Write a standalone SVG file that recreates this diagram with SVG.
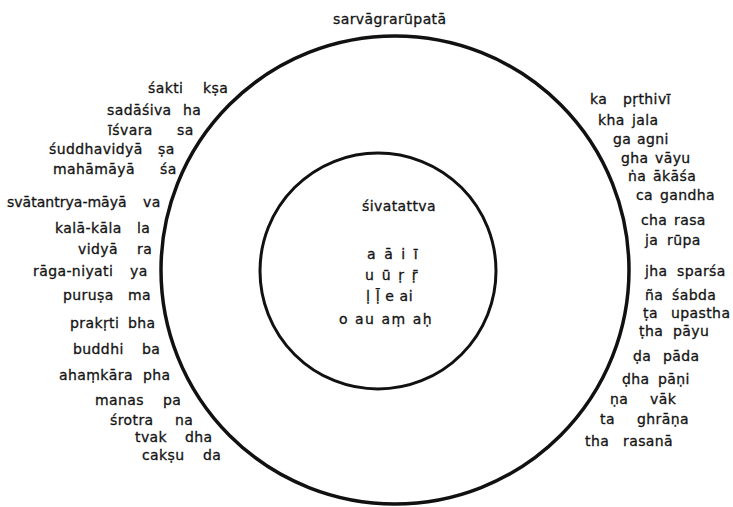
<svg xmlns="http://www.w3.org/2000/svg" width="733" height="507" viewBox="0 0 733 507">
<style>
text{font-family:"DejaVu Sans","Noto Sans",sans-serif;font-size:14px;font-weight:normal;letter-spacing:0.4px;fill:#141414;stroke:#141414;stroke-width:0.3}
.ring{fill:none;stroke:#111}
</style>
<rect width="733" height="507" fill="#fff"/>
<g id="connectors">
<circle id="outer-circle" class="ring" cx="395" cy="270" r="234" stroke-width="3.5"/>
<circle id="inner-circle" class="ring" cx="378" cy="271" r="118" stroke-width="3"/>
</g>
<g id="title"><text x="333" y="24">sarvāgrarūpatā</text></g>
<g id="center">
<text x="362" y="211">śivatattva</text>
<text x="367" y="259" textLength="51">a ā i ī</text>
<text x="365" y="280" textLength="53">u ū ṛ ṝ</text>
<text x="366" y="301" textLength="47">ḷ ḹ e ai</text>
<text x="339" y="324" textLength="93">o au aṃ aḥ</text>
</g>
<g id="left">
<g id="l1"><text x="148" y="93">śakti</text><text x="203" y="93">kṣa</text></g>
<g id="l2"><text x="107" y="115">sadāśiva</text><text x="183" y="115">ha</text></g>
<g id="l3"><text x="108" y="135">īśvara</text><text x="177" y="135">sa</text></g>
<g id="l4"><text x="49" y="154">śuddhavidyā</text><text x="158" y="154">ṣa</text></g>
<g id="l5"><text x="53" y="174">mahāmāyā</text><text x="160" y="174">śa</text></g>
<g id="l6"><text x="7" y="207" textLength="120">svātantrya-māyā</text><text x="143" y="207">va</text></g>
<g id="l7"><text x="55" y="233">kalā-kāla</text><text x="137" y="233">la</text></g>
<g id="l8"><text x="78" y="254">vidyā</text><text x="137" y="254">ra</text></g>
<g id="l9"><text x="33" y="276">rāga-niyati</text><text x="130" y="276">ya</text></g>
<g id="l10"><text x="63" y="300">puruṣa</text><text x="128" y="300">ma</text></g>
<g id="l11"><text x="70" y="328">prakṛti</text><text x="128" y="328">bha</text></g>
<g id="l12"><text x="73" y="354">buddhi</text><text x="142" y="354">ba</text></g>
<g id="l13"><text x="59" y="380">ahaṃkāra</text><text x="143" y="380">pha</text></g>
<g id="l14"><text x="95" y="405">manas</text><text x="163" y="405">pa</text></g>
<g id="l15"><text x="110" y="425">śrotra</text><text x="175" y="425">na</text></g>
<g id="l16"><text x="135" y="442">tvak</text><text x="185" y="442">dha</text></g>
<g id="l17"><text x="142" y="460">cakṣu</text><text x="203" y="460">da</text></g>
</g>
<g id="right">
<g id="r1"><text x="590" y="104">ka</text><text x="623" y="104">pṛthivī</text></g>
<g id="r2"><text x="598" y="125">kha</text><text x="632" y="125">jala</text></g>
<g id="r3"><text x="613" y="144">ga</text><text x="637" y="144">agni</text></g>
<g id="r4"><text x="621" y="163">gha</text><text x="655" y="163">vāyu</text></g>
<g id="r5"><text x="628" y="181">ṅa</text><text x="653" y="181">ākāśa</text></g>
<g id="r6"><text x="636" y="200">ca</text><text x="660" y="200">gandha</text></g>
<g id="r7"><text x="641" y="225">cha</text><text x="674" y="225">rasa</text></g>
<g id="r8"><text x="645" y="245">ja</text><text x="667" y="245">rūpa</text></g>
<g id="r9"><text x="645" y="276">jha</text><text x="677" y="276">sparśa</text></g>
<g id="r10"><text x="645" y="300">ña</text><text x="672" y="300">śabda</text></g>
<g id="r11"><text x="643" y="318">ṭa</text><text x="671" y="318">upastha</text></g>
<g id="r12"><text x="639" y="336">ṭha</text><text x="673" y="336">pāyu</text></g>
<g id="r13"><text x="633" y="361">ḍa</text><text x="663" y="361">pāda</text></g>
<g id="r14"><text x="622" y="384">ḍha</text><text x="658" y="384">pāṇi</text></g>
<g id="r15"><text x="610" y="404">ṇa</text><text x="650" y="404">vāk</text></g>
<g id="r16"><text x="600" y="424">ta</text><text x="637" y="424">ghrāṇa</text></g>
<g id="r17"><text x="585" y="446">tha</text><text x="623" y="446">rasanā</text></g>
</g>
</svg>
